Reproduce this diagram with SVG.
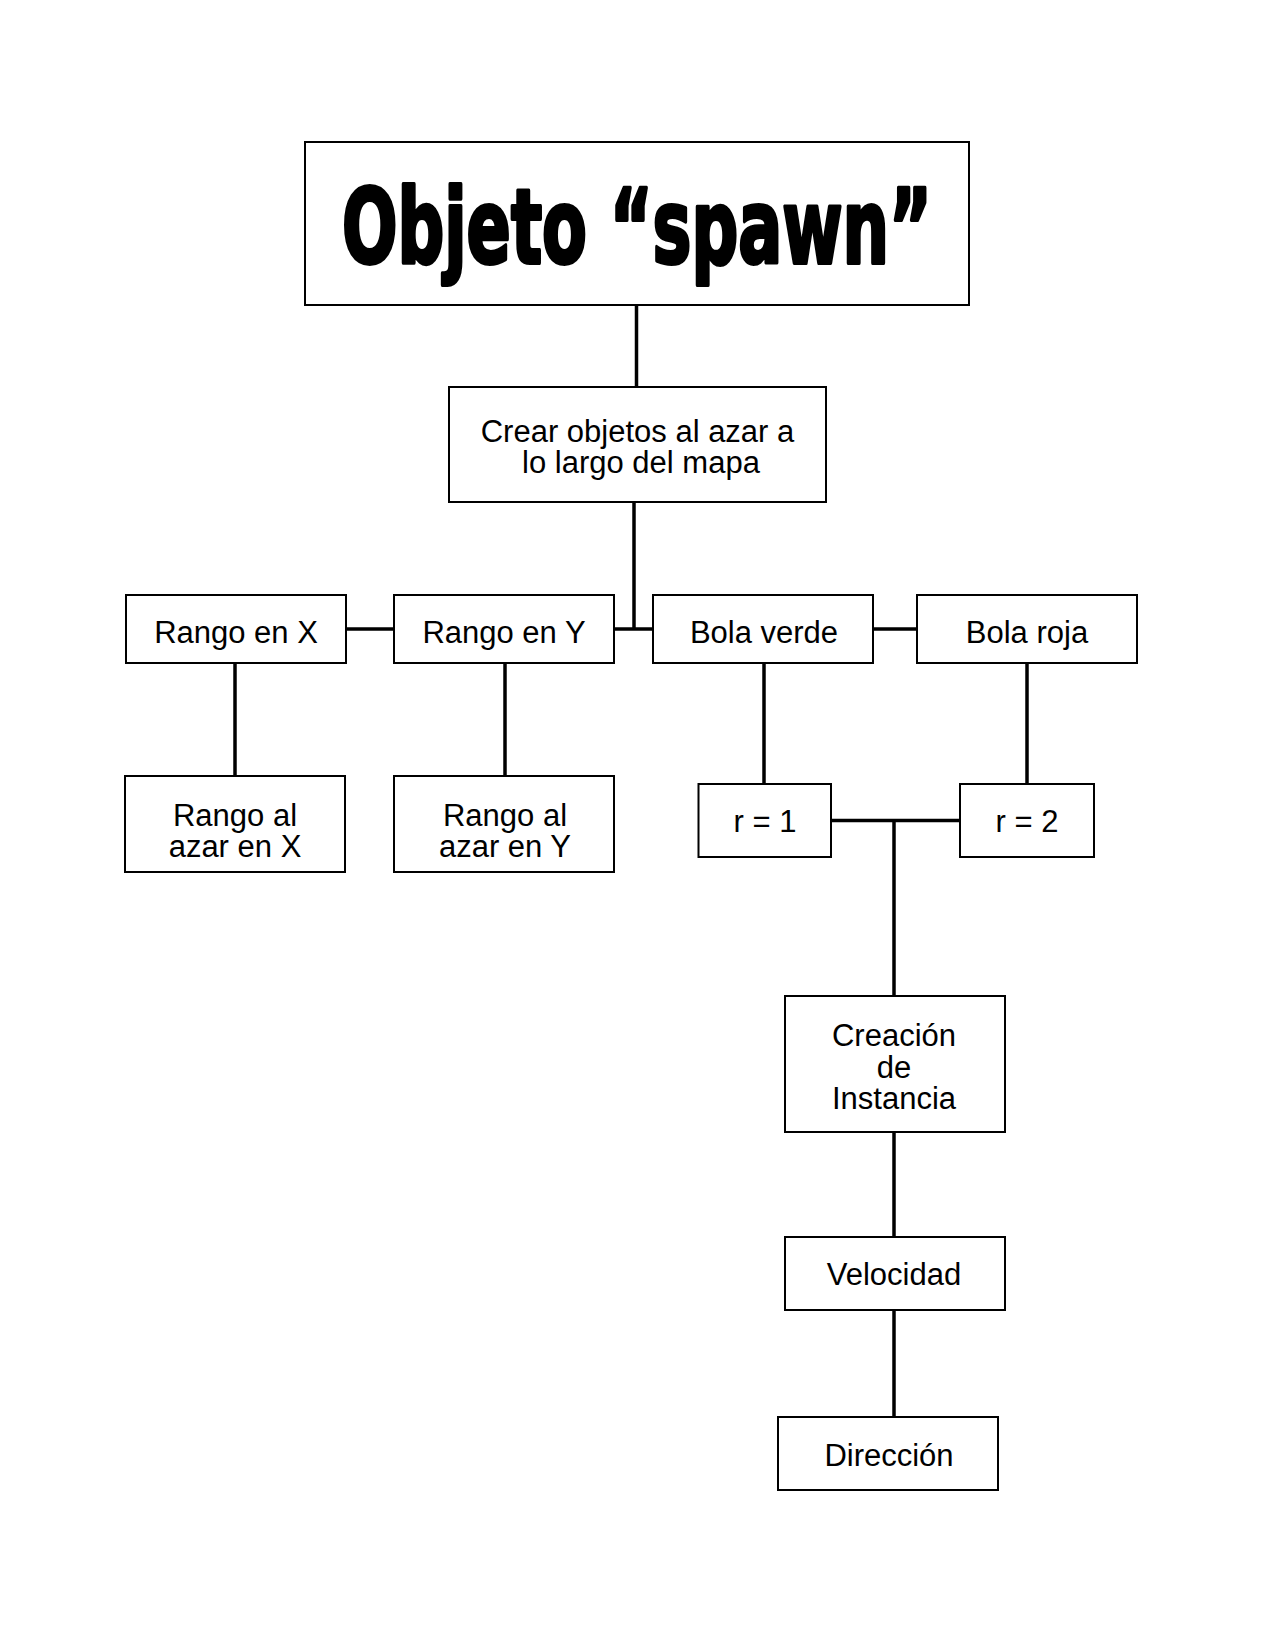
<svg xmlns="http://www.w3.org/2000/svg" width="1275" height="1650" viewBox="0 0 1275 1650">
<style>
.box{fill:#fff;stroke:#000;stroke-width:2}
.t{font-family:"Liberation Sans",Arial,sans-serif;font-size:31px;fill:#000;text-anchor:middle}
.title{font-family:"DejaVu Sans","Liberation Sans",sans-serif;font-weight:bold;font-size:104px;fill:#000;stroke:#000;stroke-width:4;stroke-linejoin:round;text-anchor:middle}
#connectors line{stroke:#000;stroke-width:3.5}
</style>
<rect width="1275" height="1650" fill="#fff"/>
<g id="connectors">
<line x1="636.5" y1="305" x2="636.5" y2="387"/>
<line x1="634" y1="502" x2="634" y2="629"/>
<line x1="346" y1="629" x2="394" y2="629"/>
<line x1="614" y1="629" x2="653" y2="629"/>
<line x1="873" y1="629" x2="917" y2="629"/>
<line x1="235" y1="663" x2="235" y2="776"/>
<line x1="505" y1="663" x2="505" y2="776"/>
<line x1="764" y1="663" x2="764" y2="784"/>
<line x1="1027" y1="663" x2="1027" y2="784"/>
<line x1="831" y1="820.5" x2="960" y2="820.5"/>
<line x1="894" y1="820.5" x2="894" y2="996"/>
<line x1="894" y1="1132" x2="894" y2="1237"/>
<line x1="894" y1="1310" x2="894" y2="1417"/>
</g>
<g id="title">
<rect class="box" x="305" y="142" width="664" height="163"/>
<text class="title" x="637" y="263" textLength="590" lengthAdjust="spacingAndGlyphs">Objeto “spawn”</text>
</g>
<g id="crear">
<rect class="box" x="449" y="387" width="377" height="115"/>
<text class="t" x="637.5" y="442">Crear objetos al azar a</text>
<text class="t" x="641" y="473">lo largo del mapa</text>
</g>
<g id="rangoX">
<rect class="box" x="126" y="595" width="220" height="68"/>
<text class="t" x="236" y="643">Rango en X</text>
</g>
<g id="rangoY">
<rect class="box" x="394" y="595" width="220" height="68"/>
<text class="t" x="504" y="643">Rango en Y</text>
</g>
<g id="bolaVerde">
<rect class="box" x="653" y="595" width="220" height="68"/>
<text class="t" x="764" y="643">Bola verde</text>
</g>
<g id="bolaRoja">
<rect class="box" x="917" y="595" width="220" height="68"/>
<text class="t" x="1027" y="643">Bola roja</text>
</g>
<g id="azarX">
<rect class="box" x="125" y="776" width="220" height="96"/>
<text class="t" x="235" y="826">Rango al</text>
<text class="t" x="235" y="857">azar en X</text>
</g>
<g id="azarY">
<rect class="box" x="394" y="776" width="220" height="96"/>
<text class="t" x="505" y="826">Rango al</text>
<text class="t" x="505" y="857">azar en Y</text>
</g>
<g id="r1">
<rect class="box" x="698.5" y="784" width="132.5" height="73"/>
<text class="t" x="765" y="832">r = 1</text>
</g>
<g id="r2">
<rect class="box" x="960" y="784" width="134" height="73"/>
<text class="t" x="1027" y="832">r = 2</text>
</g>
<g id="creacion">
<rect class="box" x="785" y="996" width="220" height="136"/>
<text class="t" x="894" y="1046">Creación</text>
<text class="t" x="894" y="1078">de</text>
<text class="t" x="894" y="1109">Instancia</text>
</g>
<g id="velocidad">
<rect class="box" x="785" y="1237" width="220" height="73"/>
<text class="t" x="894" y="1285">Velocidad</text>
</g>
<g id="direccion">
<rect class="box" x="778" y="1417" width="220" height="73"/>
<text class="t" x="889" y="1466">Dirección</text>
</g>
</svg>
